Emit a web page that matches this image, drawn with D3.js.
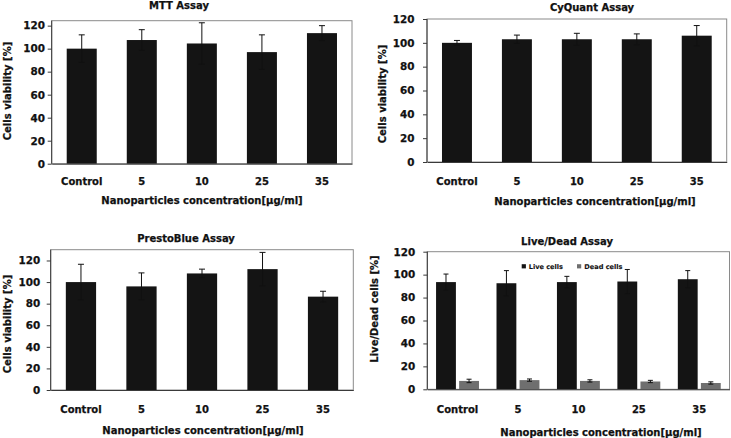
<!DOCTYPE html>
<html><head><meta charset="utf-8">
<script src="https://cdn.jsdelivr.net/npm/d3@7"></script>
<style>
body{margin:0;background:#fff}
svg{display:block}
text{font-family:"DejaVu Sans",sans-serif;font-weight:bold;fill:#111;stroke:#111;stroke-width:0.25px}
</style>
</head><body>
<svg id="c" width="731" height="438"></svg>
<script>
// ---- data ----
const categories = ["Control", "5", "10", "25", "35"];
const yTickValues = [0, 20, 40, 60, 80, 100, 120];
const xAxisTitle = "Nanoparticles concentration[µg/ml]";

const mttValues = [100, 107.5, 104.5, 97, 113.5];
const mttErrors = [12, 9, 18, 15, 6.5];

const cyquantValues = [100, 103, 103, 103, 106];
const cyquantErrors = [2, 3.5, 5, 4.5, 8.5];

const prestoValues = [100, 96, 108, 112, 86.5];
const prestoErrors = [16.5, 12.5, 4, 15.5, 5];

const liveValues = [93.5, 92.5, 93.5, 94, 96];
const liveErrors = [7, 11, 5, 10.5, 7.5];
const deadValues = [7.3, 8, 7.3, 6.8, 5.5];
const deadErrors = [1.5, 1, 1, 1, 1];
const seriesNames = ["Live cells", "Dead cells"];

// ---- layout ----
const svg = d3.select("#c");
svg.append("rect").attr("width", 731).attr("height", 438).attr("fill", "#fff");

const panels = [
  { title: "MTT Assay", titleX: 179, titleY: 8.5, yTitle: "Cells viability [%]",
    left: 51.7, right: 352, top: 20.7, bottom: 163.7, yMax: 124.3,
    tickPad: 2.7, xPad: 14.2, xTitleX: 202, xTitleY: 204, yTitleX: 10.5, yTitleY: 91,
    series: [{ values: mttValues, errors: mttErrors, color: "#141414" }] },
  { title: "CyQuant Assay", titleX: 592, titleY: 11, yTitle: "Cells viability [%]",
    left: 427, right: 726.7, top: 19, bottom: 162, yMax: 120,
    tickPad: 8.5, xPad: 15.9, xTitleX: 595, xTitleY: 205, yTitleX: 386, yTitleY: 94,
    series: [{ values: cyquantValues, errors: cyquantErrors, color: "#141414" }] },
  { title: "PrestoBlue Assay", titleX: 186, titleY: 241.5, yTitle: "Cells viability [%]",
    left: 50.7, right: 353.3, top: 249.7, bottom: 390, yMax: 130,
    tickPad: 6.5, xPad: 15.9, xTitleX: 203, xTitleY: 434, yTitleX: 10.5, yTitleY: 324,
    series: [{ values: prestoValues, errors: prestoErrors, color: "#141414" }] },
  { title: "Live/Dead Assay", titleX: 567, titleY: 245, yTitle: "Live/Dead cells [%]",
    left: 427.3, right: 729.5, top: 251.7, bottom: 389.3, yMax: 120,
    tickPad: 8, xPad: 16.3, xTitleX: 601, xTitleY: 436, yTitleX: 378, yTitleY: 309,
    outerPad: [0.29, 0.145], innerPad: 0.14, legend: true,
    series: [{ values: liveValues, errors: liveErrors, color: "#141414" },
             { values: deadValues, errors: deadErrors, color: "#6f6f6f" }] }
];

panels.forEach(p => {
  const g = svg.append("g");
  const pad = p.outerPad || [0.5, 0.25];
  const x0 = d3.scaleBand().domain(categories).range([p.left, p.right])
    .paddingInner(pad[0]).paddingOuter(pad[1]);
  const x1 = d3.scaleBand().domain(d3.range(p.series.length)).range([0, x0.bandwidth()])
    .paddingInner(p.series.length > 1 ? p.innerPad : 0).paddingOuter(0);
  const y = d3.scaleLinear().domain([0, p.yMax]).range([p.bottom, p.top]);

  // frame
  g.append("rect").attr("x", p.left).attr("y", p.top)
    .attr("width", p.right - p.left).attr("height", p.bottom - p.top)
    .attr("fill", "none").attr("stroke", "#8a8a8a").attr("stroke-width", 1);

  // bars + error bars
  p.series.forEach((s, si) => {
    const bw = x1.bandwidth();
    const capW = si === 0 && p.series.length === 1 ? 6 : 5;
    categories.forEach((c, i) => {
      const bx = x0(c) + x1(si);
      g.append("rect").attr("x", bx).attr("y", y(s.values[i]))
        .attr("width", bw).attr("height", y(0) - y(s.values[i]))
        .attr("fill", s.color);
      const cx = bx + bw / 2;
      const hi = y(s.values[i] + s.errors[i]), lo = y(s.values[i] - s.errors[i]);
      g.append("line").attr("x1", cx).attr("x2", cx).attr("y1", hi).attr("y2", lo)
        .attr("stroke", "#111").attr("stroke-width", 1);
      [hi, lo].forEach(yy => g.append("line")
        .attr("x1", cx - capW / 2).attr("x2", cx + capW / 2).attr("y1", yy).attr("y2", yy)
        .attr("stroke", "#111").attr("stroke-width", 1));
    });
  });

  // y axis
  const ya = g.append("g").attr("transform", `translate(${p.left},0)`)
    .call(d3.axisLeft(y).tickValues(yTickValues).tickSize(4).tickSizeOuter(0).tickPadding(p.tickPad));
  ya.attr("font-family", null).attr("font-size", null);
  ya.select(".domain").attr("stroke", "#3a3a3a").attr("d", `M0,${p.bottom}V${p.top}`);
  ya.selectAll(".tick line").attr("stroke", "#3a3a3a");
  ya.selectAll(".tick text").style("font-size", "10.4px").attr("fill", "#111");

  // x axis
  const xa = g.append("g").attr("transform", `translate(0,${p.bottom})`)
    .call(d3.axisBottom(x0).tickSize(0).tickSizeOuter(0).tickPadding(p.xPad));
  xa.attr("font-family", null).attr("font-size", null);
  xa.select(".domain").attr("stroke", "#3a3a3a");
  xa.selectAll(".tick text").style("font-size", "10px").attr("fill", "#111");

  // titles
  g.append("text").attr("x", p.titleX).attr("y", p.titleY).attr("text-anchor", "middle")
    .style("font-size", "10px").text(p.title);
  g.append("text").attr("x", p.xTitleX).attr("y", p.xTitleY).attr("text-anchor", "middle")
    .style("font-size", "10px").text(xAxisTitle);
  g.append("text").attr("transform", `translate(${p.yTitleX},${p.yTitleY}) rotate(-90)`)
    .attr("text-anchor", "middle").style("font-size", "10px").text(p.yTitle);

  if (p.legend) {
    const lg = g.append("g");
    const items = [{ x: 521.7, tx: 528.7 }, { x: 577, tx: 584.3 }];
    seriesNames.forEach((n, i) => {
      lg.append("rect").attr("x", items[i].x).attr("y", 264.2).attr("width", 4.2).attr("height", 4.2)
        .attr("fill", p.series[i].color);
      lg.append("text").attr("x", items[i].tx).attr("y", 268.6)
        .style("font-size", "6.6px").style("stroke-width", "0.1px").text(n);
    });
  }
});
</script>
</body></html>
